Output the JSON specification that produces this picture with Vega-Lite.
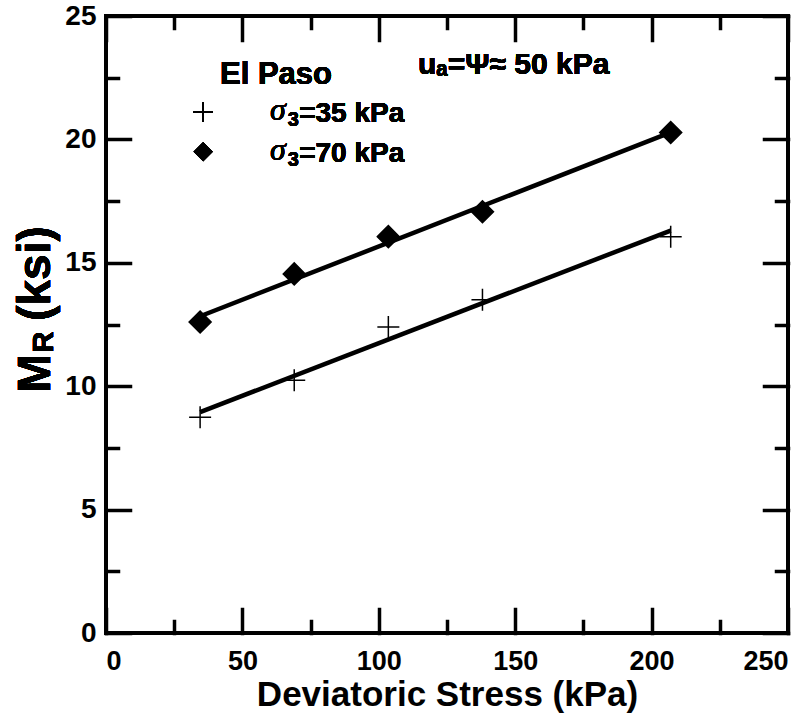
{
  "$schema": "https://vega.github.io/schema/vega-lite/v6.json",
  "autosize": {"type": "none"},
  "padding": {"left": 106, "top": 16, "right": 24, "bottom": 82},
  "width": 682,
  "height": 617,
  "background": "white",
  "data": {
    "values": [
      {"stress": 34.5, "MR": 8.74, "series": "σ3=35 kPa"},
      {"stress": 69, "MR": 10.24, "series": "σ3=35 kPa"},
      {"stress": 103.5, "MR": 12.4, "series": "σ3=35 kPa"},
      {"stress": 138, "MR": 13.5, "series": "σ3=35 kPa"},
      {"stress": 207, "MR": 16.06, "series": "σ3=35 kPa"},
      {"stress": 34.5, "MR": 12.6, "series": "σ3=70 kPa"},
      {"stress": 69, "MR": 14.55, "series": "σ3=70 kPa"},
      {"stress": 103.5, "MR": 16.06, "series": "σ3=70 kPa"},
      {"stress": 138, "MR": 17.07, "series": "σ3=70 kPa"},
      {"stress": 207, "MR": 20.28, "series": "σ3=70 kPa"}
    ]
  },
  "layer": [
    {
      "mark": {"type": "point", "filled": true, "color": "black", "stroke": "black", "strokeWidth": 1.5, "size": 484, "opacity": 1},
      "encoding": {
        "x": {"field": "stress", "type": "quantitative", "scale": {"domain": [0, 250], "nice": false, "zero": false},
          "axis": {"orient": "bottom", "values": [0, 50, 100, 150, 200, 250], "tickSize": -24, "labelPadding": 39, "labelFontWeight": "bold", "labelFontSize": 27, "title": "Deviatoric Stress (kPa)", "titleFontSize": 35, "titleFontWeight": "bold", "titlePadding": 3}},
        "y": {"field": "MR", "type": "quantitative", "scale": {"domain": [0, 25], "nice": false, "zero": false},
          "axis": {"orient": "left", "values": [0, 5, 10, 15, 20, 25], "tickSize": -24, "labelPadding": 34, "labelFontWeight": "bold", "labelFontSize": 28, "title": null}},
        "shape": {"field": "series", "type": "nominal",
          "scale": {"domain": ["σ3=35 kPa", "σ3=70 kPa"], "range": ["M-1,0H1M0,-1V1", "diamond"]}, "legend": null}
      }
    },
    {
      "transform": [{"regression": "MR", "on": "stress", "groupby": ["series"]}],
      "mark": {"type": "line", "color": "black", "strokeWidth": 4.5},
      "encoding": {
        "x": {"field": "stress", "type": "quantitative", "scale": {"domain": [0, 250], "nice": false, "zero": false},
          "axis": {"orient": "bottom", "values": [25, 75, 125, 175, 225], "tickSize": -12, "labels": false, "title": null}},
        "y": {"field": "MR", "type": "quantitative", "scale": {"domain": [0, 25], "nice": false, "zero": false},
          "axis": {"orient": "left", "values": [2.5, 7.5, 12.5, 17.5, 22.5], "tickSize": -12, "labels": false, "title": null}},
        "detail": {"field": "series", "type": "nominal"}
      }
    },
    {
      "mark": {"type": "text", "text": "uₐ=Ψ≈ 50 kPa", "align": "left", "baseline": "middle", "fontSize": 30, "fontWeight": "bold", "font": "Liberation Sans", "color": "black"},
      "encoding": {
        "x": {"datum": 114.4, "type": "quantitative", "scale": {"domain": [0, 250], "nice": false, "zero": false},
          "axis": {"orient": "top", "values": [0, 50, 100, 150, 200, 250], "tickSize": -24, "labels": false, "title": null}},
        "y": {"datum": 23.0, "type": "quantitative", "scale": {"domain": [0, 25], "nice": false, "zero": false},
          "axis": {"orient": "right", "values": [0, 5, 10, 15, 20, 25], "tickSize": -24, "labels": false, "title": null}}
      }
    },
    {
      "mark": {"type": "text", "text": "M", "align": "left", "baseline": "alphabetic", "angle": 270, "fontSize": 47, "fontWeight": "bold", "font": "Liberation Sans", "color": "black"},
      "encoding": {
        "x": {"datum": -20.5, "type": "quantitative", "scale": {"domain": [0, 250], "nice": false, "zero": false},
          "axis": {"orient": "top", "values": [25, 75, 125, 175, 225], "tickSize": -12, "labels": false, "title": null}},
        "y": {"datum": 9.72, "type": "quantitative", "scale": {"domain": [0, 25], "nice": false, "zero": false},
          "axis": {"orient": "right", "values": [2.5, 7.5, 12.5, 17.5, 22.5], "tickSize": -12, "labels": false, "title": null}}
      }
    },
    {
      "mark": {"type": "text", "text": "R", "align": "left", "baseline": "alphabetic", "angle": 270, "fontSize": 30, "fontWeight": "bold", "font": "Liberation Sans", "color": "black"},
      "encoding": {
        "x": {"datum": -19.6, "type": "quantitative", "scale": {"domain": [0, 250], "nice": false, "zero": false}, "axis": null},
        "y": {"datum": 11.35, "type": "quantitative", "scale": {"domain": [0, 25], "nice": false, "zero": false}, "axis": null}
      }
    },
    {
      "mark": {"type": "text", "text": "(ksi)", "align": "left", "baseline": "alphabetic", "angle": 270, "fontSize": 46, "fontWeight": "bold", "font": "Liberation Sans", "color": "black"},
      "encoding": {
        "x": {"datum": -20.5, "type": "quantitative", "scale": {"domain": [0, 250], "nice": false, "zero": false}, "axis": null},
        "y": {"datum": 12.65, "type": "quantitative", "scale": {"domain": [0, 25], "nice": false, "zero": false}, "axis": null}
      }
    },
    {
      "mark": {"type": "text", "text": "El Paso", "align": "left", "baseline": "middle", "fontSize": 31, "fontWeight": "bold", "font": "Liberation Sans", "color": "black"},
      "encoding": {
        "x": {"datum": 41.8, "type": "quantitative", "scale": {"domain": [0, 250], "nice": false, "zero": false}, "axis": null},
        "y": {"datum": 22.6, "type": "quantitative", "scale": {"domain": [0, 25], "nice": false, "zero": false}, "axis": null}
      }
    },
    {
      "mark": {"type": "point", "shape": "M-1,0H1M0,-1V1", "filled": false, "stroke": "black", "strokeWidth": 1.5, "size": 380, "opacity": 1},
      "encoding": {
        "x": {"datum": 35.6, "type": "quantitative", "scale": {"domain": [0, 250], "nice": false, "zero": false}, "axis": null},
        "y": {"datum": 21.1, "type": "quantitative", "scale": {"domain": [0, 25], "nice": false, "zero": false}, "axis": null}
      }
    },
    {
      "mark": {"type": "point", "shape": "diamond", "filled": true, "color": "black", "size": 361, "opacity": 1},
      "encoding": {
        "x": {"datum": 35.6, "type": "quantitative", "scale": {"domain": [0, 250], "nice": false, "zero": false}, "axis": null},
        "y": {"datum": 19.5, "type": "quantitative", "scale": {"domain": [0, 25], "nice": false, "zero": false}, "axis": null}
      }
    },
    {
      "mark": {"type": "text", "text": "σ", "align": "left", "baseline": "alphabetic", "fontSize": 32, "fontStyle": "italic", "font": "Liberation Serif", "color": "black"},
      "encoding": {
        "x": {"datum": 60.1, "type": "quantitative", "scale": {"domain": [0, 250], "nice": false, "zero": false}, "axis": null},
        "y": {"datum": 20.78, "type": "quantitative", "scale": {"domain": [0, 25], "nice": false, "zero": false}, "axis": null}
      }
    },
    {
      "mark": {"type": "text", "text": "3", "align": "left", "baseline": "alphabetic", "fontSize": 20, "fontWeight": "bold", "font": "Liberation Sans", "color": "black"},
      "encoding": {
        "x": {"datum": 66.6, "type": "quantitative", "scale": {"domain": [0, 250], "nice": false, "zero": false}, "axis": null},
        "y": {"datum": 20.55, "type": "quantitative", "scale": {"domain": [0, 25], "nice": false, "zero": false}, "axis": null}
      }
    },
    {
      "mark": {"type": "text", "text": "=35 kPa", "align": "left", "baseline": "alphabetic", "fontSize": 28, "fontWeight": "bold", "font": "Liberation Sans", "color": "black"},
      "encoding": {
        "x": {"datum": 70.8, "type": "quantitative", "scale": {"domain": [0, 250], "nice": false, "zero": false}, "axis": null},
        "y": {"datum": 20.7, "type": "quantitative", "scale": {"domain": [0, 25], "nice": false, "zero": false}, "axis": null}
      }
    },
    {
      "mark": {"type": "text", "text": "σ", "align": "left", "baseline": "alphabetic", "fontSize": 32, "fontStyle": "italic", "font": "Liberation Serif", "color": "black"},
      "encoding": {
        "x": {"datum": 60.1, "type": "quantitative", "scale": {"domain": [0, 250], "nice": false, "zero": false}, "axis": null},
        "y": {"datum": 19.16, "type": "quantitative", "scale": {"domain": [0, 25], "nice": false, "zero": false}, "axis": null}
      }
    },
    {
      "mark": {"type": "text", "text": "3", "align": "left", "baseline": "alphabetic", "fontSize": 20, "fontWeight": "bold", "font": "Liberation Sans", "color": "black"},
      "encoding": {
        "x": {"datum": 66.6, "type": "quantitative", "scale": {"domain": [0, 250], "nice": false, "zero": false}, "axis": null},
        "y": {"datum": 18.93, "type": "quantitative", "scale": {"domain": [0, 25], "nice": false, "zero": false}, "axis": null}
      }
    },
    {
      "mark": {"type": "text", "text": "=70 kPa", "align": "left", "baseline": "alphabetic", "fontSize": 28, "fontWeight": "bold", "font": "Liberation Sans", "color": "black"},
      "encoding": {
        "x": {"datum": 70.8, "type": "quantitative", "scale": {"domain": [0, 250], "nice": false, "zero": false}, "axis": null},
        "y": {"datum": 19.08, "type": "quantitative", "scale": {"domain": [0, 25], "nice": false, "zero": false}, "axis": null}
      }
    }
  ],
  "resolve": {"axis": {"x": "independent", "y": "independent"}},
  "config": {
    "view": {"stroke": "black", "strokeWidth": 4},
    "font": "Liberation Sans",
    "axis": {
      "grid": false, "domain": false, "tickColor": "black", "tickWidth": 3.5, "tickCap": "square",
      "labelFont": "Liberation Sans", "labelFontSize": 28, "labelFontWeight": "bold", "labelColor": "black",
      "titleFont": "Liberation Sans", "titleFontWeight": "bold", "titleColor": "black"
    }
  }
}
